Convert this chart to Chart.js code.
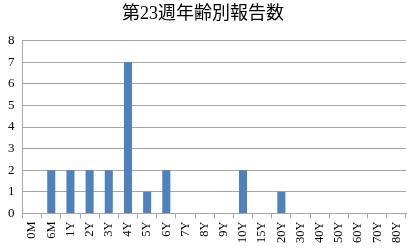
<!DOCTYPE html>
<html>
<head>
<meta charset="utf-8">
<script src="https://cdn.jsdelivr.net/npm/chart.js@4/dist/chart.umd.min.js"></script>
<style>
  html, body { margin: 0; padding: 0; background: #fff; }
  #wrap { width: 407px; height: 250px; }
</style>
</head>
<body>
<div id="wrap"><canvas id="c"></canvas></div>
<script>
// ─── DATA ────────────────────────────────────────────────────────────────
const titleText = '第23週年齢別報告数';
const ageLabels = ['0M', '6M', '1Y', '2Y', '3Y', '4Y', '5Y', '6Y', '7Y', '8Y',
  '9Y', '10Y', '15Y', '20Y', '30Y', '40Y', '50Y', '60Y', '70Y', '80Y'];
const reportCounts = [0, 2, 2, 2, 2, 7, 1, 2, 0, 0, 0, 2, 0, 1, 0, 0, 0, 0, 0, 0];
const yTicks = [0, 1, 2, 3, 4, 5, 6, 7, 8];

const serif = "'Liberation Serif', 'DejaVu Serif', 'Noto Sans CJK JP', serif";

new Chart(document.getElementById('c'), {
  type: 'bar',
  data: {
    labels: ageLabels,
    datasets: [{
      data: reportCounts,
      backgroundColor: '#4f81bd',
      borderWidth: 0,
      barPercentage: 0.42,
      categoryPercentage: 1.0
    }]
  },
  options: {
    responsive: true, maintainAspectRatio: false, animation: false,
    layout: { padding: { left: 0, right: 1, top: 0, bottom: 4 } },
    plugins: {
      legend: { display: false },
      tooltip: { enabled: false },
      title: {
        display: true, text: titleText, color: '#000',
        font: { family: serif, size: 18, weight: 'normal' },
        padding: { top: 3, bottom: 16 }
      }
    },
    scales: {
      x: {
        afterFit: axis => { axis.paddingRight = 0; },
        grid: { drawOnChartArea: false, drawTicks: true, tickLength: 5, color: '#a6a6a6', offset: true },
        border: { color: '#a6a6a6' },
        ticks: { color: '#000', font: { family: serif, size: 12.5 }, minRotation: 90, maxRotation: 90, autoSkip: false, padding: 3 }
      },
      y: {
        min: 0, max: 8,
        afterBuildTicks: axis => { axis.ticks = yTicks.map(v => ({ value: v })); },
        grid: { color: '#a6a6a6', drawTicks: false },
        border: { color: '#a6a6a6' },
        ticks: { color: '#000', font: { family: serif, size: 13 }, padding: 8 }
      }
    }
  }
});
</script>
</body>
</html>
